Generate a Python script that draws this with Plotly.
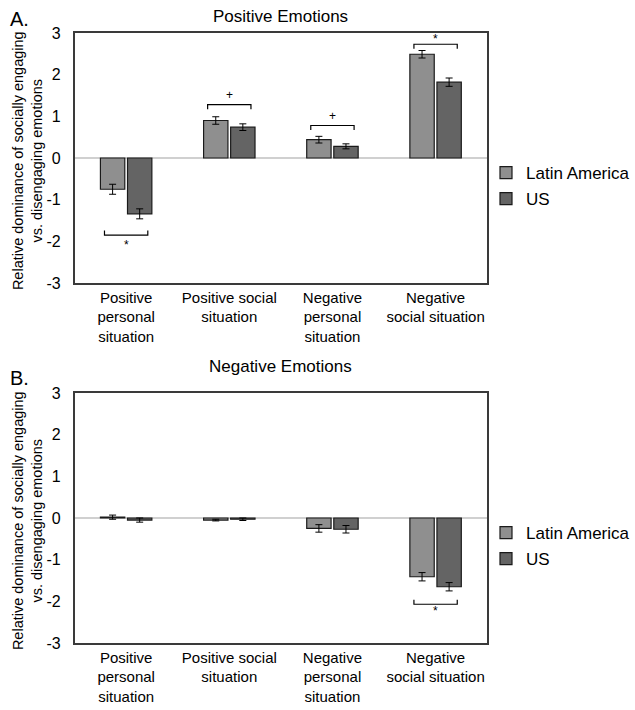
import plotly.graph_objects as go

categories = ["Positive<br>personal<br>situation", "Positive social<br>situation",
              "Negative<br>personal<br>situation", "Negative<br>social situation"]
groups = ["Latin America", "US"]
y_ticks = [-3, -2, -1, 0, 1, 2, 3]
y_tick_text = ["-3", "-2", "-1", "0", "1", "2", "3"]

pos_la = [-0.75, 0.90, 0.44, 2.49]
pos_la_err = [0.12, 0.09, 0.08, 0.09]
pos_us = [-1.34, 0.74, 0.28, 1.82]
pos_us_err = [0.12, 0.08, 0.06, 0.10]

neg_la = [0.02, -0.05, -0.25, -1.41]
neg_la_err = [0.05, 0.02, 0.09, 0.10]
neg_us = [-0.05, -0.03, -0.27, -1.65]
neg_us_err = [0.05, 0.03, 0.09, 0.10]

# significance brackets: category index, bracket level, tick direction, label, label level
pos_brackets = [(0, -1.85, 1, "*", -2.08), (1, 1.28, -1, "+", 1.52),
                (2, 0.78, -1, "+", 1.02), (3, 2.73, -1, "*", 2.85)]
neg_brackets = [(3, -2.07, 1, "*", -2.22)]

colors = ["#8f8f8f", "#646464"]
FONT = "Liberation Sans, Arial, sans-serif"

W, H = 635, 710


def px(x):
    return x / W


def py(y):
    return 1 - y / H


fig = go.Figure()
xpos = list(range(len(categories)))

panels = [
    ("x", "y", "legend", [pos_la, pos_us], [pos_la_err, pos_us_err], pos_brackets),
    ("x2", "y2", "legend2", [neg_la, neg_us], [neg_la_err, neg_us_err], neg_brackets),
]

for xa, ya, lg, vals, errs, brackets in panels:
    for g, v, e, c in zip(groups, vals, errs, colors):
        fig.add_trace(go.Bar(
            x=xpos, y=v, name=g, xaxis=xa, yaxis=ya, legend=lg, legendgroup=g + lg,
            marker=dict(color=c, line=dict(color="#1a1a1a", width=1.2)),
            error_y=dict(type="data", array=e, color="#000000", thickness=1, width=3.5),
        ))
    for ci, lvl, d, lab, ly in brackets:
        hw, tk = 0.21, 0.11
        fig.add_trace(go.Scatter(
            x=[ci - hw, ci - hw, ci + hw, ci + hw],
            y=[lvl + d * tk, lvl, lvl, lvl + d * tk],
            mode="lines", line=dict(color="#000000", width=1.2),
            xaxis=xa, yaxis=ya, showlegend=False, hoverinfo="skip",
        ))
        fig.add_annotation(x=ci, y=ly, xref=xa, yref=ya, text=lab, showarrow=False,
                           xanchor="center", yanchor="middle",
                           font=dict(size=12, color="#000000", family=FONT))

xdom = [px(77), px(503)]
ydom1 = [py(283), py(33)]
ydom2 = [py(643), py(393)]

axis_common = dict(showline=True, mirror=True, linecolor="#3a3a3a", linewidth=1.5,
                   showgrid=False, ticks="")
xcommon = dict(axis_common, range=[-0.5, 3.5], tickmode="array", tickvals=xpos,
               ticktext=categories, zeroline=False, automargin=False,
               tickfont=dict(size=15, color="#000000", family=FONT), ticklabelstandoff=0)
ycommon = dict(axis_common, range=[-3, 3], tickmode="array", tickvals=y_ticks,
               ticktext=y_tick_text,
               zeroline=True, zerolinecolor="#d0d0d0", zerolinewidth=1.5, automargin=False,
               tickfont=dict(size=16, color="#000000", family=FONT), ticklabelstandoff=9)

legend_common = dict(xanchor="left", yanchor="top",
                     font=dict(size=17, family=FONT, color="#000000"),
                     traceorder="grouped", tracegroupgap=1, bgcolor="rgba(0,0,0,0)")

fig.update_layout(
    width=W, height=H, margin=dict(l=0, r=0, t=0, b=0),
    paper_bgcolor="white", plot_bgcolor="white",
    barmode="group", bargap=0.475, bargroupgap=0.1,
    font=dict(family=FONT, color="#000000"),
    xaxis=dict(xcommon, domain=xdom, anchor="y"),
    yaxis=dict(ycommon, domain=ydom1, anchor="x"),
    xaxis2=dict(xcommon, domain=xdom, anchor="y2"),
    yaxis2=dict(ycommon, domain=ydom2, anchor="x2"),
    legend=dict(legend_common, x=px(502), y=py(155)),
    legend2=dict(legend_common, x=px(502), y=py(515)),
    showlegend=True,
)

ytitle = "Relative dominance of socially engaging<br>vs. disengaging emotions"
for yc in [161, 521]:
    fig.add_annotation(x=px(28), y=py(yc), xref="paper", yref="paper", text=ytitle,
                       textangle=-90, showarrow=False, xanchor="center", yanchor="middle",
                       font=dict(size=14.5, family=FONT))

for txt, yc in [("Positive Emotions", 17), ("Negative Emotions", 366)]:
    fig.add_annotation(x=px(290), y=py(yc), xref="paper", yref="paper", text=txt,
                       showarrow=False, xanchor="center", yanchor="middle",
                       font=dict(size=17, family=FONT))
for txt, yc in [("A.", 19), ("B.", 378)]:
    fig.add_annotation(x=px(20), y=py(yc), xref="paper", yref="paper", text=txt,
                       showarrow=False, xanchor="center", yanchor="middle",
                       font=dict(size=20, family=FONT))

# remove the page's default body margin so the figure fills the window exactly
fig.write_html("out.html", config={"displayModeBar": False},
               post_script="document.body.style.margin='0px';")
